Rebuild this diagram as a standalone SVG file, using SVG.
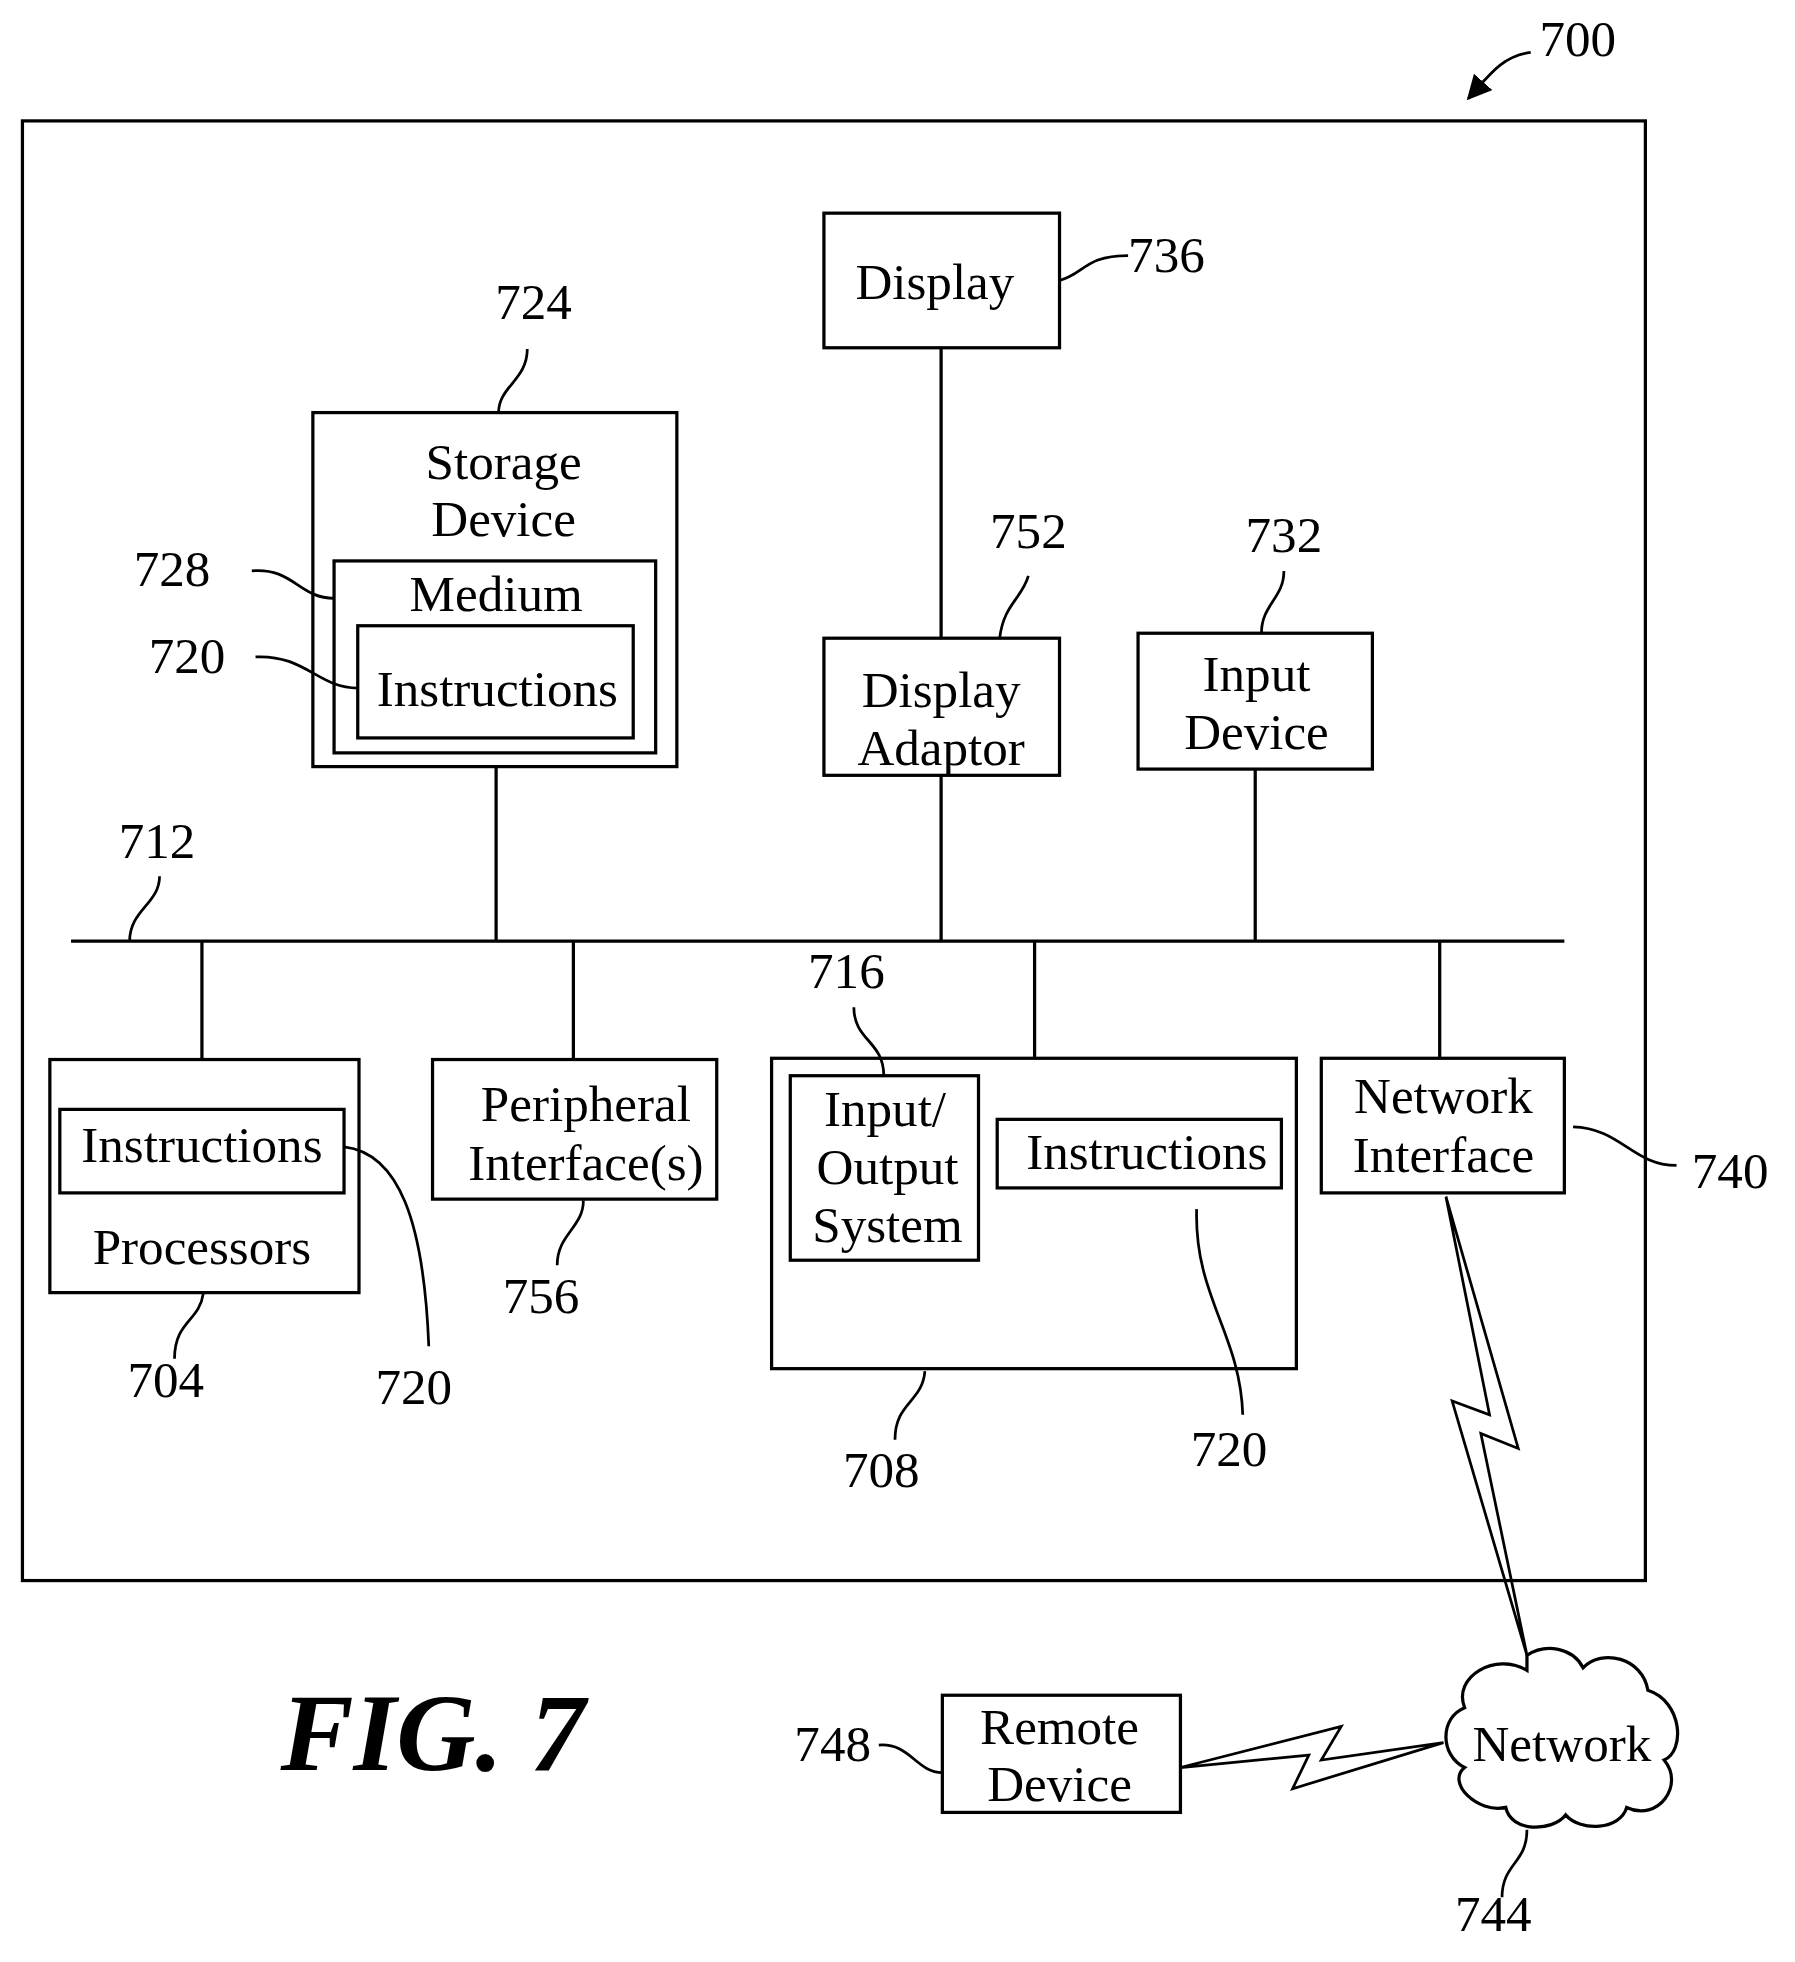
<svg xmlns="http://www.w3.org/2000/svg" width="1795" height="1962" viewBox="0 0 1795 1962">
<defs>
<style>
.b{fill:none;stroke:#000;stroke-width:2.6}
.l{fill:none;stroke:#000;stroke-width:2.2}
text{font-family:"Liberation Serif",serif;font-size:41px;fill:#000;text-anchor:middle}
.n{text-anchor:start}
</style>
<marker id="ah" viewBox="0 0 10 10" refX="9" refY="5" markerWidth="9" markerHeight="9" orient="auto"><path d="M0,0L10,5L0,10z" fill="#000"/></marker>
</defs>
<rect width="1795" height="1962" fill="#fff"/>
<g transform="scale(1.2465)">
<g id="frame"><rect class="b" x="18" y="97" width="1302" height="1171"/>
<text class="n" x="1235" y="45">700</text><path class="l" d="M1228,42 C1205,45 1195,60 1178,79" marker-end="url(#ah)"/></g>
<g id="connectors">
<path class="b" d="M57,755H1255M755,279V512M398,615V755M755,622V755M1007,617V755M162,755V850M460,755V850M830,755V849M1155,755V849"/>
<path class="l" d="M1160,960L1218,1162L1188,1150L1225,1328L1165,1124L1195,1135Z"/>
<path class="l" d="M947,1418L1076,1385L1060,1412L1158,1398L1037,1435L1050,1408Z"/>
</g>
<g id="n736"><rect class="b" x="661" y="171" width="189" height="108"/><text x="750" y="240">Display</text>
<text class="n" x="905" y="218">736</text><path class="l" d="M850,225C870,220 870,205 905,205"/></g>
<g id="n752"><rect class="b" x="661" y="512" width="189" height="110"/><text x="755" y="567">Display</text><text x="755" y="614">Adaptor</text>
<text x="825" y="440">752</text><path class="l" d="M825,462C820,480 805,485 802,512"/></g>
<g id="n732"><rect class="b" x="913" y="508" width="188" height="109"/><text x="1008" y="554">Input</text><text x="1008" y="601">Device</text>
<text x="1030" y="443">732</text><path class="l" d="M1030,458C1030,480 1012,485 1012,508"/></g>
<g id="n724"><rect class="b" x="251" y="331" width="292" height="284"/><text x="404" y="384">Storage</text><text x="404" y="430">Device</text>
<text x="428" y="256">724</text><path class="l" d="M423,280C423,305 400,310 400,331"/>
<g id="n728"><rect class="b" x="268" y="450" width="258" height="154"/><text x="398" y="490">Medium</text>
<text x="138" y="470">728</text><path class="l" d="M202,458C235,455 240,480 268,480"/></g>
<g id="n720a"><rect class="b" x="287" y="502" width="221" height="90"/><text x="399" y="566">Instructions</text>
<text x="150" y="540">720</text><path class="l" d="M205,527C245,525 255,552 287,552"/></g></g>
<g id="n712"><text x="126" y="688">712</text><path class="l" d="M128,703C128,725 104,730 104,755"/></g>
<g id="n704"><rect class="b" x="40" y="850" width="248" height="187"/><rect class="b" x="48" y="890" width="228" height="67"/><text x="162" y="932">Instructions</text><text x="162" y="1014">Processors</text>
<text x="133" y="1121">704</text><path class="l" d="M163,1038C160,1060 140,1060 140,1090"/>
<text x="332" y="1126">720</text><path class="l" d="M276,920C320,925 340,980 344,1080"/></g>
<g id="n756"><rect class="b" x="347" y="850" width="228" height="112"/><text x="470" y="899">Peripheral</text><text x="470" y="947">Interface(s)</text>
<text x="434" y="1053">756</text><path class="l" d="M468,963C468,985 447,990 447,1015"/></g>
<g id="n708"><rect class="b" x="619" y="849" width="421" height="249"/>
<text x="707" y="1193">708</text><path class="l" d="M742,1100C740,1125 718,1125 718,1155"/>
<g id="n716"><rect class="b" x="634" y="863" width="151" height="148"/><text x="710" y="903">Input/</text><text x="712" y="950">Output</text><text x="712" y="996">System</text>
<text x="679" y="793">716</text><path class="l" d="M685,808C685,835 709,835 709,863"/></g>
<g id="n720c"><rect class="b" x="800" y="898" width="228" height="55"/><text x="920" y="938">Instructions</text>
<text x="986" y="1176">720</text><path class="l" d="M960,970C958,1040 995,1070 997,1135"/></g></g>
<g id="n740"><rect class="b" x="1060" y="849" width="195" height="108"/><text x="1158" y="893">Network</text><text x="1158" y="940">Interface</text>
<text x="1388" y="953">740</text><path class="l" d="M1262,904C1300,905 1310,935 1345,935"/></g>
<g id="n744"><path class="b" d="M1225,1328C1240,1318 1262,1322 1270,1338C1285,1322 1318,1330 1322,1356C1350,1365 1352,1405 1335,1412C1352,1432 1330,1462 1305,1450C1300,1468 1268,1470 1256,1456C1245,1470 1212,1470 1208,1450C1185,1455 1160,1430 1175,1418C1155,1408 1155,1378 1175,1370C1165,1345 1200,1325 1225,1340Z"/><text x="1253" y="1413">Network</text>
<text x="1198" y="1549">744</text><path class="l" d="M1225,1468C1225,1495 1205,1495 1205,1522"/></g>
<g id="n748"><rect class="b" x="756" y="1360" width="191" height="94"/><text x="850" y="1399">Remote</text><text x="850" y="1445">Device</text>
<text x="668" y="1413">748</text><path class="l" d="M705,1400C730,1398 735,1422 756,1422"/></g>
<text x="225" y="1420" class="n" style="font-size:88px;font-weight:bold;font-style:italic">FIG. 7</text>
</g>
</svg>
